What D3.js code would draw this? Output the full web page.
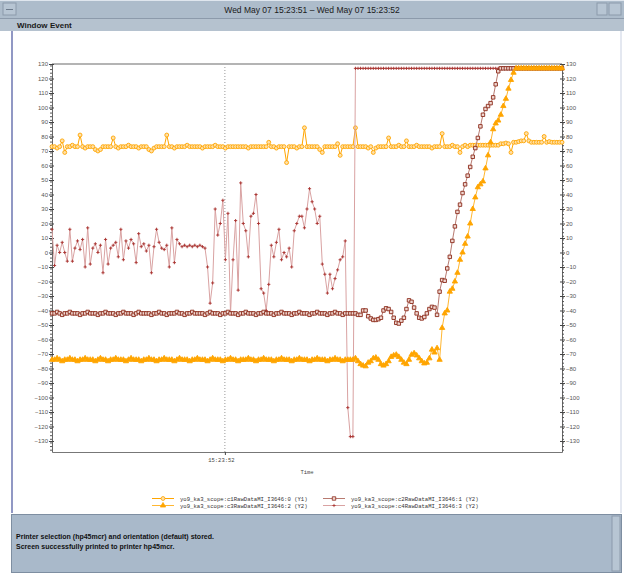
<!DOCTYPE html>
<html>
<head>
<meta charset="utf-8">
<script src="https://cdnjs.cloudflare.com/ajax/libs/d3/7.8.5/d3.min.js"></script>
<style>
body { margin: 0; background: #fff; }
svg text { font-family: "Liberation Sans", Arial, sans-serif; }
</style>
</head>
<body>
<svg id="chart" width="624" height="575"></svg>
<script>
// sample clock of the scope (one sample every 5 ms)
const startTime = new Date(2008, 4, 7, 15, 23, 51, 661);
const sampleMs = 5;
const spanMs = 1000;

// c1 (Y1) circles
const c1Values = [
    73,73,72,73,77,69,73,73,74,73,
    73,81,73,72,73,73,73,71,70,71,
    73,73,73,73,79,73,72,73,73,73,
    74,73,73,73,72,73,73,73,71,70,
    72,73,73,73,73,81,73,73,72,73,
    73,73,73,74,73,73,73,73,73,72,
    73,73,73,73,74,73,73,73,72,73,
    73,73,73,73,73,73,73,72,73,73,
    73,73,73,73,73,76,73,73,72,73,
    73,73,62,73,73,73,72,73,73,86,
    73,73,73,73,73,71,69,73,73,73,
    73,73,75,67,73,73,73,73,73,86,
    73,73,73,73,72,73,69,72,73,73,
    73,73,79,73,73,73,74,73,73,77,
    73,73,73,74,73,73,73,73,73,72,
    73,73,73,82,73,73,73,74,73,73,
    69,73,74,73,74,74,74,74,74,74,
    74,74,74,74,74,74,75,75,75.5,75,
    69,76,76,76.5,77,77,82,77,76,76,
    76,76,76,80,76,76.5,76,76,76,76,
    76
];

// c2 (Y2) squares
const c2Values = [
    -42,-42,-41,-42,-43,-42,-42,-41,-42,-42,
    -42,-43,-42,-42,-41,-42,-42,-42,-43,-42,
    -42,-41,-42,-42,-42,-43,-42,-42,-41,-42,
    -42,-42,-43,-42,-41,-42,-42,-42,-42,-43,
    -42,-42,-41,-42,-42,-43,-42,-42,-42,-41,
    -42,-42,-43,-42,-42,-41,-42,-42,-42,-42,
    -43,-42,-41,-42,-42,-42,-43,-42,-42,-41,
    -42,-42,-42,-43,-42,-42,-41,-42,-42,-42,
    -43,-42,-42,-41,-42,-42,-42,-43,-42,-42,
    -41,-42,-42,-42,-43,-42,-42,-41,-42,-42,
    -42,-43,-42,-42,-41,-42,-42,-42,-43,-42,
    -42,-41,-42,-42,-43,-42,-42,-42,-42,-42,
    -43,-43,-40,-40,-44,-45.5,-46.5,-46.5,-46,-45,
    -40,-38.5,-39,-41,-45,-48.5,-49,-47,-45,-39,
    -33,-34,-38,-42,-45,-45.5,-44.5,-42,-39,-37.5,
    -38,-43,-27,-19,-19.5,-11,-3,8,18,28,
    33,41,47,53,59,66,72,79,87,95,
    99,101,103,107,116,125,127,127,127,127,
    127,127,127,127,127,127,127,127,127,127,
    127,127,127,127,127,127,127,127,127,127,
    127
];

// c3 (Y2) triangles
const c3Values = [
    -74,-74,-73,-74,-75,-74,-74,-73,-74,-74,
    -75,-74,-74,-73,-74,-74,-74,-75,-74,-73,
    -74,-74,-75,-74,-74,-73,-74,-74,-74,-75,
    -74,-73,-74,-74,-74,-75,-74,-74,-73,-74,
    -74,-75,-74,-74,-73,-74,-74,-74,-75,-74,
    -73,-74,-74,-74,-75,-74,-74,-73,-74,-74,
    -74,-75,-74,-73,-74,-74,-74,-75,-74,-74,
    -73,-74,-74,-75,-74,-74,-74,-73,-74,-74,
    -75,-74,-74,-73,-74,-74,-74,-75,-74,-74,
    -73,-74,-74,-74,-75,-74,-74,-73,-74,-74,
    -74,-75,-74,-74,-73,-74,-74,-74,-75,-74,
    -74,-73,-74,-74,-75,-74,-74,-74,-74,-73,
    -75,-77,-78,-78.5,-76,-75,-73,-72.5,-74,-77,
    -78,-77,-75,-72,-71,-70.5,-72,-74,-76,-77,
    -74,-70.5,-69.5,-71,-73,-75,-76.5,-76,-73,-67,
    -69,-66,-74,-52,-42,-40,-27,-25,-20,-14,
    -5,0,6,11,20,30,38,45,47,49,
    58,67,76,85,89,91,95,101,106,113,
    119,124,127,127,127,127,127,127,127,127,
    127,127,127,127,127,127,127,127,127,127,
    127
];

// c4 (Y2) crosses
const c4Values = [
    16,-9,5,0,7,0,-6,16,-6,3,
    8,2,9,-10,17,-8,3,6,0,5,
    -14,9,-8,3,5,7,-3,16,-5,8,
    3,9,6,-7,13,4,6,1,5,-14,
    4,16,7,3,2,5,-10,17,-7,9,
    6,4,5,4,5,4,5,4,5,4,
    3,-10,-35,-21,30,12,20,36,-5,27,
    -42,-5,22,-26,48,20,15,-3,25,27,
    40,20,-25,-28,-40,-22,5,-3,7,16,
    -5,0,-3,3,-10,15,20,25,25,17,
    30,44,35,30,20,25,-8,-15,-28,-15,
    -25,-18,-12,-5,-3,8,-107,-127,-127,127,
    127,127,127,127,127,127,127,127,127,127,
    127,127,127,127,127,127,127,127,127,127,
    127,127,127,127,127,127,127,127,127,127,
    127,127,127,127,127,127,127,127,127,127,
    127,127,127,127,127,127,127,127,127,127,
    127,127,127,127,127,127,127,127,127,127,
    127,127,127,127,127,127,127,127,127,127,
    127,127,127,127,127,127,127,127,127,127,
    127
];

const legendLabels = [
    "yo9_ka3_scope:c1RawDataMI_I3646:0 (Y1)",
    "yo9_ka3_scope:c2RawDataMI_I3646:1 (Y2)",
    "yo9_ka3_scope:c3RawDataMI_I3646:2 (Y2)",
    "yo9_ka3_scope:c4RawDataMI_I3646:3 (Y2)"
];
const yTickValues = d3.range(-130, 131, 10);
const xTickTimes = [new Date(2008, 4, 7, 15, 23, 52)];
const titleText = "Wed May 07 15:23:51 \u2013 Wed May 07 15:23:52";
const menuItems = ["Window", "Event"];
const statusLines = [
    "Printer selection (hp45mcr) and orientation (default) stored.",
    "Screen successfully printed to printer hp45mcr."
];

const svg = d3.select("#chart");

//////////// window frame
svg.append("rect").attr("width", 624).attr("height", 575).attr("fill", "#ffffff");
svg.append("rect").attr("x", 0).attr("y", 0).attr("width", 624).attr("height", 19).attr("fill", "#adbccb");
svg.append("line").attr("x1", 0).attr("x2", 624).attr("y1", 0.5).attr("y2", 0.5).attr("stroke", "#dfe6ee");
svg.append("line").attr("x1", 0).attr("x2", 624).attr("y1", 18.5).attr("y2", 18.5).attr("stroke", "#8c9aab");
svg.append("rect").attr("x", 3).attr("y", 3).attr("width", 13).attr("height", 12)
    .attr("fill", "#b7c5d3").attr("stroke", "#8c9aab");
svg.append("line").attr("x1", 6).attr("x2", 13).attr("y1", 9.5).attr("y2", 9.5).attr("stroke", "#6d7b8c");
svg.append("rect").attr("x", 597).attr("y", 3).attr("width", 10).attr("height", 12)
    .attr("fill", "#b7c5d3").attr("stroke", "#8c9aab");
svg.append("rect").attr("x", 609).attr("y", 3).attr("width", 12).attr("height", 12)
    .attr("fill", "#b7c5d3").attr("stroke", "#8c9aab");
svg.append("text").attr("x", 312).attr("y", 13).attr("text-anchor", "middle")
    .style("font-size", "8.5px").attr("fill", "#1a1a1a").text(titleText);

svg.append("rect").attr("x", 0).attr("y", 19).attr("width", 624).attr("height", 12).attr("fill", "#b5c2cf");
svg.selectAll(".menu").data(menuItems).enter().append("text")
    .attr("class", "menu")
    .attr("x", (d, i) => i == 0 ? 17 : 50)
    .attr("y", 28)
    .style("font-size", "8px").style("font-weight", "bold").attr("fill", "#1a1a1a")
    .text(d => d);

// content area
svg.append("rect").attr("x", 11).attr("y", 31).attr("width", 610).attr("height", 482)
    .attr("fill", "#ffffff");
svg.append("line").attr("x1", 12).attr("x2", 12).attr("y1", 31).attr("y2", 513)
    .attr("stroke", "#9198c4").attr("stroke-width", 2);
svg.append("line").attr("x1", 621).attr("x2", 621).attr("y1", 31).attr("y2", 513)
    .attr("stroke", "#c9d1e2").attr("stroke-width", 1);

// status panel
svg.append("rect").attr("x", 11.5).attr("y", 514.5).attr("width", 610).attr("height", 58)
    .attr("fill", "#a9b9ca").attr("stroke", "#7e8ea1");
svg.append("rect").attr("x", 612).attr("y", 516).attr("width", 8).attr("height", 55)
    .attr("fill", "#b7c5d3").attr("stroke", "#8c9aab");
svg.selectAll(".status").data(statusLines).enter().append("text")
    .attr("class", "status")
    .attr("x", 16)
    .attr("y", (d, i) => 539 + i * 10)
    .style("font-size", "7px").style("font-weight", "bold").attr("fill", "#111")
    .text(d => d);

//////////// plot
const plot = { left: 52, right: 562, top: 64, bottom: 452 };

const xScale = d3.scaleTime()
    .domain([startTime, new Date(+startTime + spanMs)])
    .range([plot.left, plot.right]);
const yScale = d3.scaleLinear()
    .domain([-137.6, 130])
    .range([plot.bottom, plot.top]);

// grid line at the time tick
svg.selectAll(".vgrid").data(xTickTimes).enter().append("line")
    .attr("x1", d => xScale(d)).attr("x2", d => xScale(d))
    .attr("y1", plot.top).attr("y2", plot.bottom)
    .attr("stroke", "#999").attr("stroke-dasharray", "1,2");

// frame top
svg.append("line").attr("x1", plot.left).attr("x2", plot.right)
    .attr("y1", plot.top).attr("y2", plot.top)
    .attr("stroke", "#b4b4b4").attr("stroke-width", 2);

const minorTicks = d3.range(-136, 130, 2.5).filter(v => !yTickValues.includes(v));

function styleAxis(g) {
    g.select(".domain").attr("stroke", "#666");
    g.selectAll(".tick line").attr("stroke", "#444");
    g.selectAll("text").style("font-size", "6px").attr("fill", "#555")
        .style("font-family", "Liberation Sans, Arial, sans-serif");
}

// left Y1
const yAxisLeft = svg.append("g").attr("transform", `translate(${plot.left},0)`)
    .call(d3.axisLeft(yScale).tickValues(yTickValues).tickSize(3).tickPadding(1).tickSizeOuter(0));
styleAxis(yAxisLeft);
svg.append("g").attr("transform", `translate(${plot.left},0)`)
    .call(d3.axisLeft(yScale).tickValues(yTickValues).tickSize(-2).tickFormat("").tickSizeOuter(0))
    .call(g => { g.select(".domain").remove(); g.selectAll("line").attr("stroke", "#444"); });
svg.append("g").attr("transform", `translate(${plot.left},0)`)
    .call(d3.axisLeft(yScale).tickValues(minorTicks).tickSize(2).tickFormat("").tickSizeOuter(0))
    .call(g => { g.select(".domain").remove(); g.selectAll("line").attr("stroke", "#555"); });

// right Y2
const yAxisRight = svg.append("g").attr("transform", `translate(${plot.right},0)`)
    .call(d3.axisRight(yScale).tickValues(yTickValues).tickSize(3).tickPadding(1).tickSizeOuter(0));
styleAxis(yAxisRight);
svg.append("g").attr("transform", `translate(${plot.right},0)`)
    .call(d3.axisRight(yScale).tickValues(yTickValues).tickSize(-2).tickFormat("").tickSizeOuter(0))
    .call(g => { g.select(".domain").remove(); g.selectAll("line").attr("stroke", "#444"); });
svg.append("g").attr("transform", `translate(${plot.right},0)`)
    .call(d3.axisRight(yScale).tickValues(minorTicks).tickSize(2).tickFormat("").tickSizeOuter(0))
    .call(g => { g.select(".domain").remove(); g.selectAll("line").attr("stroke", "#555"); });

// time axis
const xAxis = svg.append("g").attr("transform", `translate(0,${plot.bottom})`)
    .call(d3.axisBottom(xScale).tickValues(xTickTimes).tickFormat(d3.timeFormat("%H:%M:%S"))
        .tickSize(3).tickPadding(3).tickSizeOuter(0));
xAxis.select(".domain").attr("stroke", "#777");
xAxis.selectAll(".tick line").attr("stroke", "#444");
xAxis.selectAll("text").style("font-size", "5.5px").attr("fill", "#444")
    .style("font-family", "Liberation Mono, monospace")
    .attr("dx", -4);

svg.append("text").attr("x", 307).attr("y", 474).attr("text-anchor", "middle")
    .style("font-size", "5.5px").style("font-family", "Liberation Mono, monospace")
    .attr("fill", "#444").text("Time");

//////////// series
const crossPath = "M-1.6,0H1.6M0,-1.6V1.6";
const circlePath = d3.symbol().type(d3.symbolCircle).size(12)();
const squarePath = d3.symbol().type(d3.symbolSquare).size(12)();
const trianglePath = d3.symbol().type(d3.symbolTriangle).size(12)();

const series = [
    { label: legendLabels[0], values: c1Values, line: "#ffa500", width: 1, marker: circlePath, fill: "#ffe0a8", stroke: "#ffa500" },
    { label: legendLabels[3], values: c4Values, line: "#d9a2a2", width: 1, marker: crossPath, fill: "none", stroke: "#a8302c" },
    { label: legendLabels[1], values: c2Values, line: "#b87a70", width: 1, marker: squarePath, fill: "#f0d8d2", stroke: "#8b2a1a" },
    { label: legendLabels[2], values: c3Values, line: "#ffb732", width: 1, marker: trianglePath, fill: "#ffa500", stroke: "#ffa500" }
];

const timeOf = i => new Date(+startTime + i * sampleMs);
const line = d3.line()
    .x((d, i) => xScale(timeOf(i)))
    .y(d => yScale(d));

series.forEach(s => {
    const g = svg.append("g");
    g.append("path")
        .attr("d", line(s.values))
        .attr("fill", "none")
        .attr("stroke", s.line)
        .attr("stroke-width", s.width);
    g.selectAll(".pt").data(s.values).enter().append("path")
        .attr("transform", (d, i) => `translate(${xScale(timeOf(i))},${yScale(d)})`)
        .attr("d", s.marker)
        .attr("fill", s.fill)
        .attr("stroke", s.stroke)
        .attr("stroke-width", 0.9);
});

//////////// legend
const legendOrder = [series[0], series[2], series[3], series[1]];
const legend = svg.append("g");
const lg = legend.selectAll("g").data(legendOrder).enter().append("g")
    .attr("transform", (d, i) => `translate(${i % 2 == 0 ? 152 : 323},${i < 2 ? 498.5 : 505.5})`);
lg.append("line").attr("x1", 0).attr("x2", 22).attr("y1", 0).attr("y2", 0)
    .attr("stroke", d => d.line);
lg.append("path").attr("transform", "translate(11,0)")
    .attr("d", d => d.marker).attr("fill", d => d.fill).attr("stroke", d => d.stroke).attr("stroke-width", 0.8);
lg.append("text").attr("x", 28).attr("y", 2)
    .style("font-size", "5.6px").style("font-family", "Liberation Mono, monospace")
    .attr("fill", "#333").text(d => d.label);
</script>
</body>
</html>
